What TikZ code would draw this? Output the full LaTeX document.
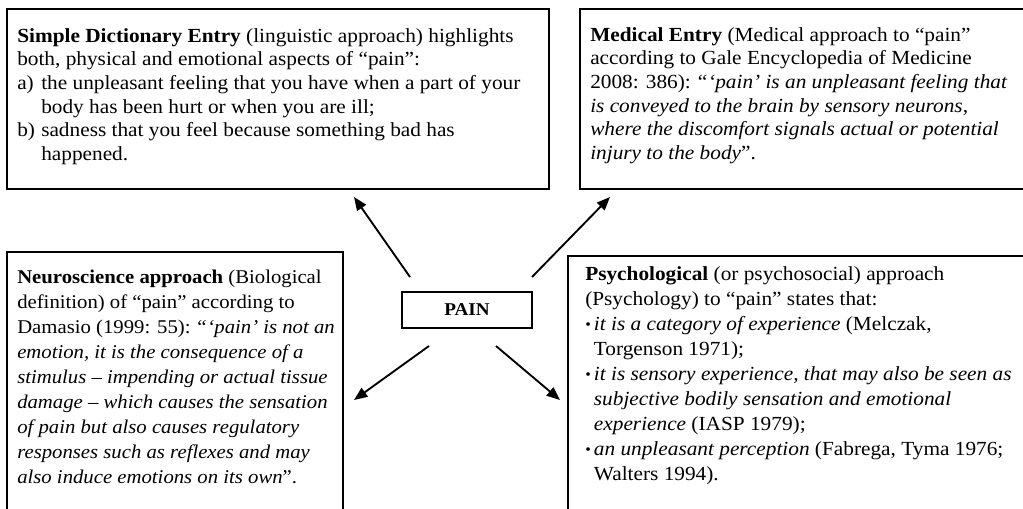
\documentclass[tikz,border=0pt]{standalone}
\usepackage{fontspec}
\setmainfont[FakeStretch=1.065]{Liberation Serif}
\usetikzlibrary{arrows.meta}
\usetikzlibrary{positioning}

% hanging labels for the lists
\newcommand\lbl[2][18pt]{\makebox[#1][l]{#2}}
\newcommand\bul{\makebox[6.5pt][l]{\raisebox{0.6pt}{\scalebox{0.75}{•}}}}
\newcommand\oq{“\kern0.6pt}

\begin{document}
\begin{tikzpicture}[x=0.75pt,y=-0.75pt,
  panel/.style={draw, line width=1.4pt, anchor=north west, inner sep=0pt},
  txt/.style={anchor=north west, inner sep=0pt, align=left,
    font=\fontsize{15}{17.7}\selectfont},
  lowtxt/.style={txt, font=\fontsize{15}{18.75}\selectfont},
  pointer/.style={line width=1.4pt, -{Triangle[length=10pt,width=8pt]}}]

  \def\px{0.75pt};

  \useasboundingbox (0,0) rectangle (1023,509);
  \clip (0,0) rectangle (1023,509);

  % boxes
  \node[panel, minimum width=542*\px, minimum height=180*\px] (dict) at (6,8) {};
  \node[panel, minimum width=460*\px, minimum height=180*\px] (med) at (579,8) {};
  \node[panel, minimum width=336*\px, minimum height=280*\px] (neuro) at (6,251) {};
  \node[panel, minimum width=470*\px, minimum height=280*\px] (psych) at (567,255) {};
  \node[draw, line width=1.4pt, minimum width=130*\px, minimum height=36*\px,
        font=\fontsize{13.5}{15}\selectfont\bfseries] (pain) at (467,310) {PAIN};

  % texts
  \node[txt] (dicttext) at (17,27.3) {\rule{0pt}{11pt}\textbf{Simple Dictionary Entry} (linguistic approach) highlights\\
    both, physical and emotional aspects of “pain”:\\
    \lbl{a)}the unpleasant feeling that you have when a part of your\\
    \lbl{}body has been hurt or when you are ill;\\
    \lbl{b)}sadness that you feel because something bad has\\
    \lbl{}happened.};

  \node[txt] (medtext) at (590,26.3) {\rule{0pt}{11pt}\textbf{Medical Entry} (Medical approach to “pain”\\
    according to Gale Encyclopedia of Medicine\\
    2008: 386): \oq\textit{‘pain’ is an unpleasant feeling that}\\
    \textit{is conveyed to the brain by sensory neurons,}\\
    \textit{where the discomfort signals actual or potential}\\
    \textit{injury to the body}”.};

  \node[lowtxt, font=\fontsize{14.6}{18.75}\selectfont] (neurotext) at (17,268.3) {\rule{0pt}{11pt}\textbf{Neuroscience approach} (Biological\\
    definition) of “pain” according to\\
    Damasio (1999: 55): \oq\textit{‘pain’ is not an}\\
    \textit{emotion, it is the consequence of a}\\
    \textit{stimulus – impending or actual tissue}\\
    \textit{damage – which causes the sensation}\\
    \textit{of pain but also causes regulatory}\\
    \textit{responses such as reflexes and may}\\
    \textit{also induce emotions on its own}”.};

  \node[lowtxt] (psychtext) at (585,265.3) {\rule{0pt}{11pt}\textbf{Psychological} (or psychosocial) approach\\
    (Psychology) to “pain” states that:\\
    \bul\textit{it is a category of experience} (Melczak,\\
    \lbl[6.5pt]{}Torgenson 1971);\\
    \bul\textit{it is sensory experience, that may also be seen as}\\
    \lbl[6.5pt]{}\textit{subjective bodily sensation and emotional}\\
    \lbl[6.5pt]{}\textit{experience} (IASP 1979);\\
    \bul\textit{an unpleasant perception} (Fabrega, Tyma 1976;\\
    \lbl[6.5pt]{}Walters 1994).};

  % arrows out of PAIN
  \coordinate (dict-from) at (410,277);  \coordinate (dict-tip) at (354,197);
  \coordinate (med-from) at (532,277);   \coordinate (med-tip) at (610,197);
  \coordinate (neuro-from) at (429,346); \coordinate (neuro-tip) at (354,400);
  \coordinate (psych-from) at (496,346); \coordinate (psych-tip) at (560,400);

  \foreach \a in {dict,med,neuro,psych}
    \draw[pointer] (\a-from) -- (\a-tip);

\end{tikzpicture}
\end{document}
